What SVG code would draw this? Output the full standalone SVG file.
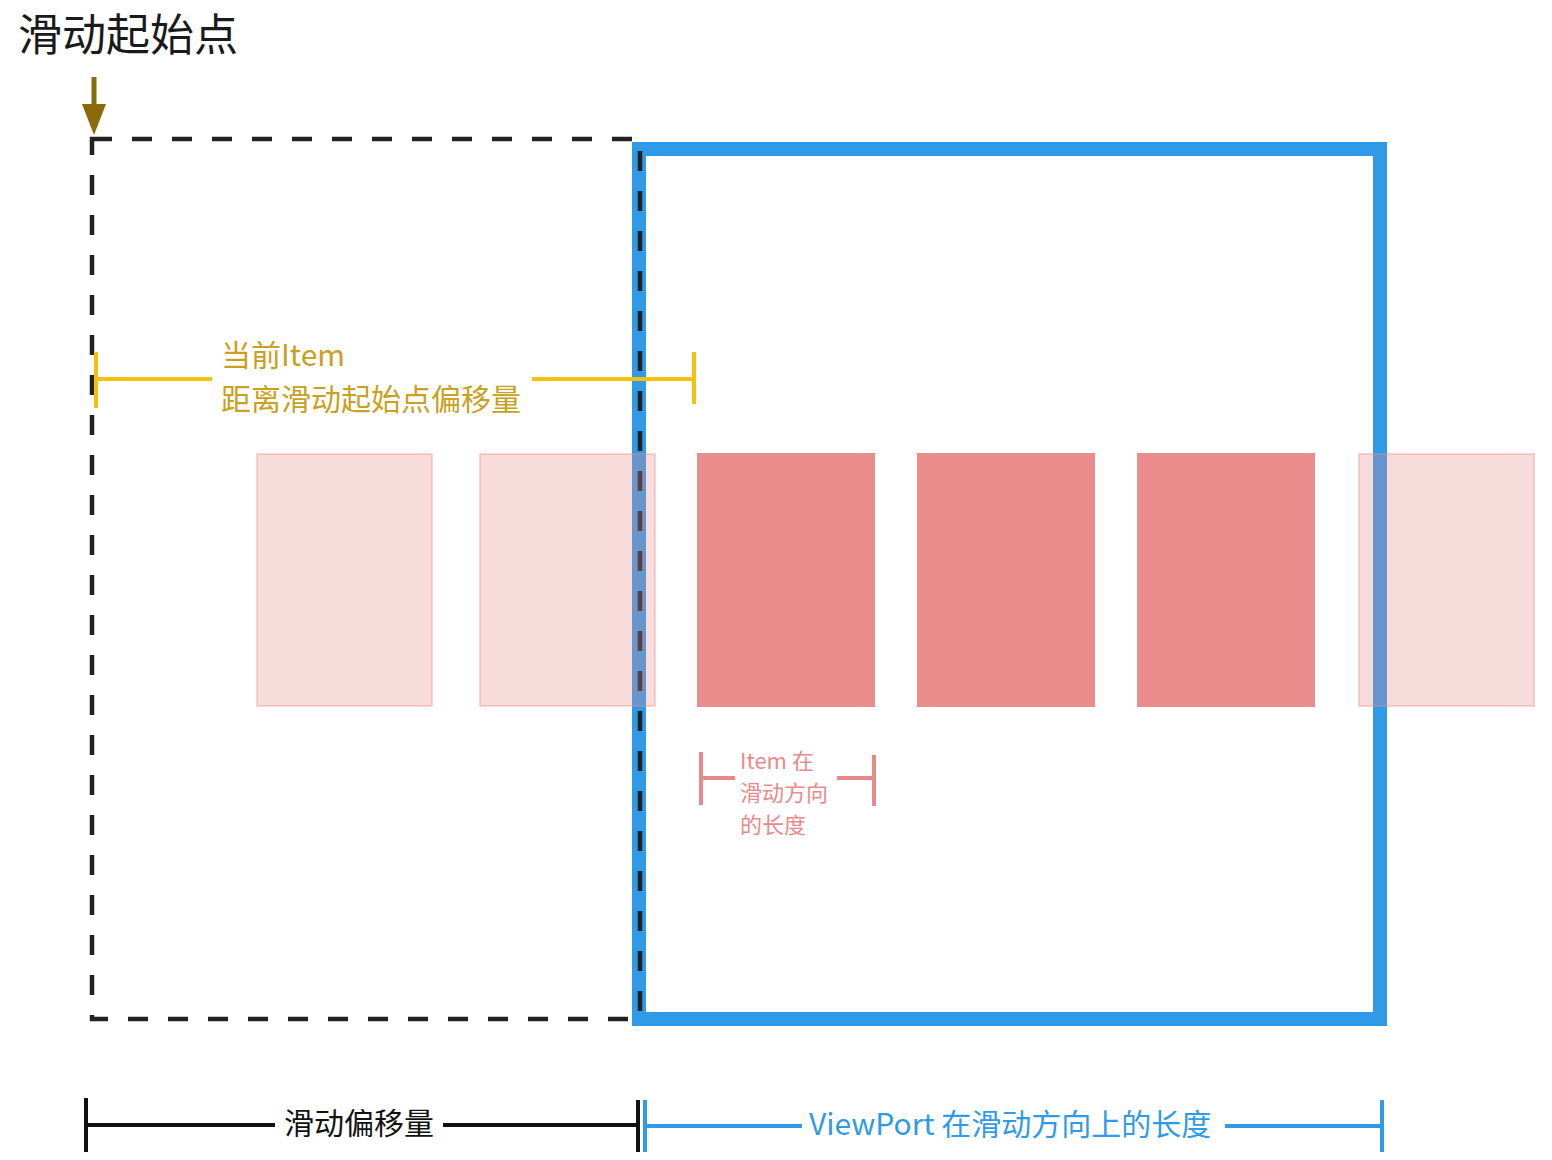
<svg xmlns="http://www.w3.org/2000/svg" width="1552" height="1160" viewBox="0 0 1552 1160">
<style>
text{font-family:"Noto Sans CJK SC","Noto Sans",sans-serif}
.dash{fill:none;stroke:#222;stroke-width:4.5;stroke-dasharray:20 20}
.vp{fill:none;stroke:#2f9be8;stroke-width:14}
.solid{fill:#eb8c8c}
.faded{fill:#e98a8a;fill-opacity:0.3;stroke:#e98a8a;stroke-opacity:0.35;stroke-width:2}
.y{stroke:#f4c20d;stroke-width:4;fill:none}
.p{stroke:#e98a8a;stroke-width:4;fill:none}
.k{stroke:#111;stroke-width:4;fill:none}
.b{stroke:#2f9be8;stroke-width:4;fill:none}
</style>
<g id="title"><text x="18" y="51" font-size="44" fill="#1a1a1a">滑动起始点</text></g>
<g id="start-arrow"><line x1="94" y1="77" x2="94" y2="105" stroke="#8b6a0c" stroke-width="5"/><path d="M82,104 L106,104 L94,135 Z" fill="#8b6a0c"/></g>
<g id="viewport"><rect class="vp" x="639" y="149" width="741" height="870"/></g>
<g id="scroll-area"><rect class="dash" x="92" y="139" width="548" height="880"/></g>
<g id="items">
<rect class="faded" x="257" y="454" width="175" height="252"/>
<rect class="faded" x="480" y="454" width="175" height="252"/>
<rect class="solid" x="697" y="453" width="178" height="254"/>
<rect class="solid" x="917" y="453" width="178" height="254"/>
<rect class="solid" x="1137" y="453" width="178" height="254"/>
<rect class="faded" x="1359" y="454" width="175" height="252"/>
</g>
<g id="connectors">
<g id="item-offset">
<path class="y" d="M96,352 V408 M96,379 H212 M532,379 H694 M694,352 V404"/>
<text x="221" y="366" font-size="30" fill="#c9a020">当前Item</text>
<text x="221" y="410" font-size="30" fill="#c9a020">距离滑动起始点偏移量</text>
</g>
<g id="item-length">
<path class="p" d="M701,752 V805 M701,778 H735 M837,778 H874 M874,755 V806"/>
<text font-size="22" fill="#e98a8a"><tspan x="740" y="769">Item 在</tspan><tspan x="740" y="801">滑动方向</tspan><tspan x="740" y="833">的长度</tspan></text>
</g>
<g id="scroll-offset">
<path class="k" d="M86,1098 V1152 M86,1125 H275 M443,1125 H638 M638,1100 V1152"/>
<text x="284" y="1134" font-size="30" fill="#111">滑动偏移量</text>
</g>
<g id="viewport-length">
<path class="b" d="M645,1100 V1152 M645,1126 H802 M1225,1126 H1382 M1382,1100 V1152"/>
<text x="809" y="1135" font-size="30" fill="#2f9be8">ViewPort 在滑动方向上的长度</text>
</g>
</g>
</svg>
